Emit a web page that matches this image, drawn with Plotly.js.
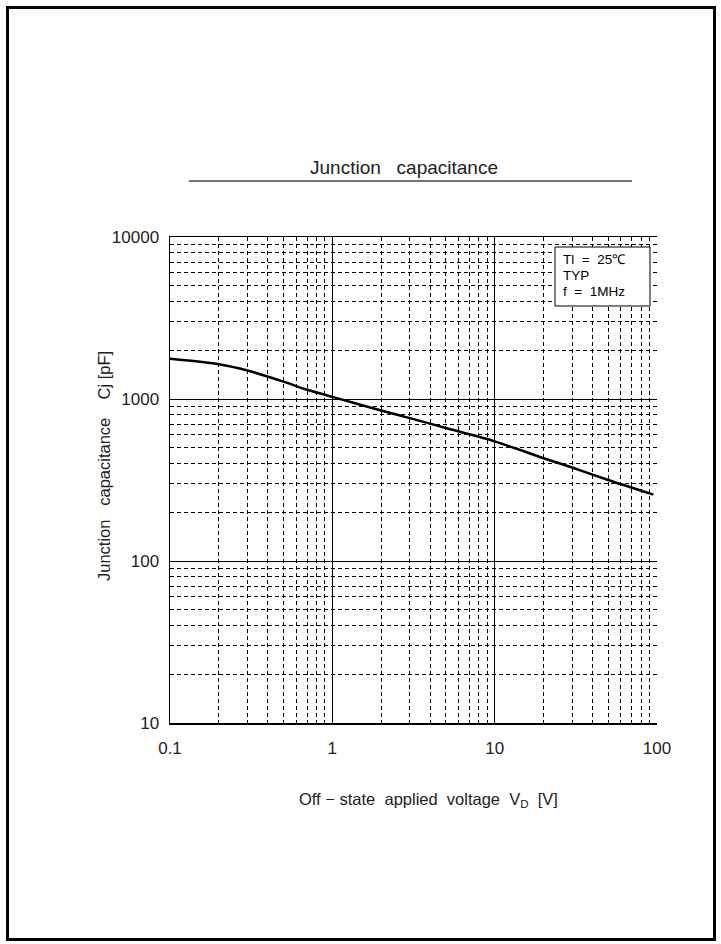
<!DOCTYPE html>
<html>
<head>
<meta charset="utf-8">
<script src="https://cdn.plot.ly/plotly-3.0.1.min.js"></script>
<style>
  html, body { margin: 0; padding: 0; background: #fff; }
  #frame { position: absolute; left: 6px; top: 6px; width: 704px; height: 929px; border: 3.5px solid #000; pointer-events: none; z-index: 10; }
  #chart { position: absolute; left: 0; top: 0; width: 721px; height: 944px; }
</style>
</head>
<body>
<div id="chart"></div>
<div id="frame"></div>
<script>
// Data
const voltage = [0.1, 0.2, 0.3, 0.5, 0.7, 1, 2, 3, 5, 10, 20, 30, 50, 95];
const capacitance = [1770, 1640, 1500, 1280, 1140, 1030, 850, 762, 662, 548, 431, 378, 316, 257];

const xMajorTicks = [0.1, 1, 10, 100];
const xMajorLabels = ['0.1', '1', '10', '100'];
const yMajorTicks = [10, 100, 1000, 10000];
const yMajorLabels = ['10', '100', '1000', '10000'];
const xMinorTicks = [0.2,0.3,0.4,0.5,0.6,0.7,0.8,0.9, 2,3,4,5,6,7,8,9, 20,30,40,50,60,70,80,90];
const yMinorTicks = [20,30,40,50,60,70,80,90, 200,300,400,500,600,700,800,900, 2000,3000,4000,5000,6000,7000,8000,9000];

const chartTitle = 'Junction\u00a0\u00a0\u00a0capacitance';
const xTitle = 'Off\u00a0\u2212\u00a0state\u00a0\u00a0applied\u00a0\u00a0voltage\u00a0\u00a0V<sub>D</sub>\u00a0\u00a0[V]';
const yTitle = 'Junction\u00a0\u00a0\u00a0capacitance\u00a0\u00a0\u00a0\u00a0Cj\u00a0[pF]';
const conditionLines = ['Tl\u00a0\u00a0=\u00a0\u00a025\u2103', 'TYP', 'f\u00a0\u00a0=\u00a0\u00a01MHz'];

// pixel helpers for plot-area geometry
const L = 170, R = 657, T = 237, B = 723;
const W = 721, H = 944;
const px = v => (v - L) / (R - L);
const py = v => (B - v) / (B - T);

const FONT = 'Liberation Sans, Arial, sans-serif';

const trace = {
  x: voltage, y: capacitance, type: 'scatter', mode: 'lines',
  line: { color: '#000', width: 2.5, shape: 'spline', smoothing: 0.6 },
  hoverinfo: 'skip', showlegend: false
};

const annotations = [
  { text: chartTitle, xref: 'paper', yref: 'paper', x: px(404), y: py(167), xanchor: 'center', yanchor: 'middle',
    showarrow: false, font: { family: FONT, size: 19, color: '#222' } },
  { text: xTitle, xref: 'paper', yref: 'paper', x: px(428), y: py(800), xanchor: 'center', yanchor: 'middle',
    showarrow: false, font: { family: FONT, size: 16.5, color: '#222' } },
  { text: yTitle, xref: 'paper', yref: 'paper', x: px(104), y: py(466), xanchor: 'center', yanchor: 'middle',
    textangle: -90, showarrow: false, font: { family: FONT, size: 16.5, color: '#222' } }
];
const lineY = [259, 275, 291];
conditionLines.forEach((t, i) => {
  annotations.push({ text: t, xref: 'paper', yref: 'paper', x: px(561), y: py(lineY[i]), xanchor: 'left', yanchor: 'middle',
    showarrow: false, align: 'left', font: { family: FONT, size: 13.5, color: '#000' } });
});

const layout = {
  width: W, height: H,
  margin: { l: L, r: W - R, t: T, b: H - B, pad: 0 },
  paper_bgcolor: '#fff', plot_bgcolor: '#fff',
  showlegend: false,
  xaxis: {
    type: 'log', range: [-1, 2],
    tickmode: 'array', tickvals: xMajorTicks, ticktext: xMajorLabels,
    ticks: '', ticklabelstandoff: 9,
    showgrid: true, gridcolor: '#000', gridwidth: 1,
    showline: true, linecolor: '#000', linewidth: 1.5, mirror: true,
    zeroline: false,
    tickfont: { family: FONT, size: 17, color: '#222' },
    minor: { tickmode: 'array', tickvals: xMinorTicks, showgrid: true, gridcolor: '#000', gridwidth: 1, griddash: '4px,3px', ticks: '' }
  },
  yaxis: {
    type: 'log', range: [1, 4],
    tickmode: 'array', tickvals: yMajorTicks, ticktext: yMajorLabels,
    ticks: '', ticklabelstandoff: 6,
    showgrid: true, gridcolor: '#000', gridwidth: 1,
    showline: true, linecolor: '#000', linewidth: 1.5, mirror: false,
    zeroline: false,
    tickfont: { family: FONT, size: 17, color: '#222' },
    minor: { tickmode: 'array', tickvals: yMinorTicks, showgrid: true, gridcolor: '#000', gridwidth: 1, griddash: '4px,3px', ticks: '' }
  },
  shapes: [
    { type: 'line', xref: 'paper', yref: 'paper', x0: px(189), x1: px(632), y0: py(181), y1: py(181),
      line: { color: '#444', width: 1.5 } },
    { type: 'rect', xref: 'paper', yref: 'paper', x0: px(555), x1: px(650), y0: py(247), y1: py(306),
      fillcolor: '#fff', line: { color: '#000', width: 1 }, layer: 'above' }
  ],
  annotations: annotations
};

Plotly.newPlot('chart', [trace], layout, { staticPlot: true, displayModeBar: false });
</script>
</body>
</html>
